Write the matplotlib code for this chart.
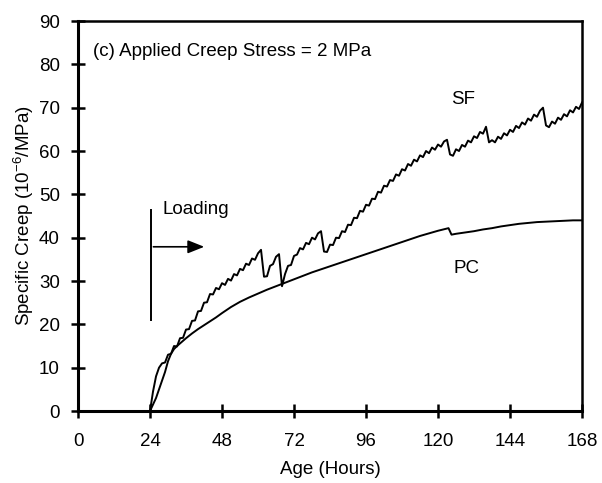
import numpy as np
import matplotlib.pyplot as plt

plt.rcParams['font.family'] = ['Liberation Sans', 'DejaVu Sans']
plt.rcParams['mathtext.fontset'] = 'custom'
plt.rcParams['mathtext.rm'] = 'Liberation Sans'
plt.rcParams['mathtext.default'] = 'rm'

# SF specific creep, hourly readings from 24 h to 168 h
sf_age = np.arange(24, 169)
sf_creep = [
    0, 4.5, 8, 10, 11, 11.2, 13, 13.2, 15, 14.9,            # 24-33
    16.8, 16.9, 18.8, 18.9, 20.8, 20.9, 23, 23.1, 25, 25.1,  # 34-43
    27, 26.9, 28.4, 28.1, 29.5, 29.1, 30.5, 30.1, 31.6, 31.3,  # 44-53
    32.8, 32.5, 34, 33.7, 35.2, 34.9, 36.4, 37.2, 31, 31.1,  # 54-63
    33.5, 33.9, 35.6, 36.2, 28.8, 31.6, 33.5, 33.7, 35.8, 36.1,  # 64-73
    37.6, 37.3, 38.8, 38.5, 40, 39.6, 41, 41.5, 36.8, 36.7,  # 74-83
    38.4, 38.3, 40, 39.9, 41.5, 41.3, 43, 42.9, 44.6, 44.5,  # 84-93
    46.2, 46, 47.6, 47.4, 49, 48.9, 50.6, 50.4, 52, 51.8,  # 94-103
    53.3, 53.1, 54.6, 54.3, 55.8, 55.5, 57, 56.6, 58, 57.6,  # 104-113
    59, 58.6, 60, 59.5, 60.8, 60.3, 61.5, 61, 62.2, 62.6,  # 114-123
    59.2, 58.9, 60.4, 60, 61.4, 61, 62.4, 62, 63.4, 63,  # 124-133
    64.4, 64, 65.6, 62, 62.5, 62, 63.3, 62.8, 64.1, 63.6,  # 134-143
    64.9, 64.4, 65.8, 65.3, 66.6, 66.1, 67.5, 67, 68.4, 67.9,  # 144-153
    69.3, 70, 65.9, 65.5, 66.8, 66.3, 67.7, 67.2, 68.5, 68,  # 154-163
    69.4, 68.9, 70.2, 69.7, 71.2,  # 164-168
]

# PC specific creep
pc_age = [24, 25, 26, 27, 28, 29, 30, 31, 32, 33, 34, 36, 38, 40, 42, 44, 46,
          48, 51, 54, 57, 60, 63, 66, 69, 72, 75, 78, 81, 84, 87, 90, 93, 96,
          99, 102, 105, 108, 111, 114, 117, 120, 123.5, 124.5, 126, 129, 132,
          135, 138, 141, 144, 147, 150, 153, 156, 159, 162, 165, 168]
pc_creep = [0, 1.5, 3, 5, 7, 9, 11.5, 13.2, 14.3, 15, 15.6, 16.8, 17.9, 18.9,
            19.8, 20.7, 21.6, 22.6, 24, 25.2, 26.2, 27.1, 28, 28.8, 29.6,
            30.4, 31.2, 32, 32.7, 33.4, 34.1, 34.8, 35.5, 36.2, 36.9, 37.6,
            38.3, 39, 39.7, 40.4, 41, 41.6, 42.2, 40.7, 40.9, 41.2, 41.5,
            41.9, 42.2, 42.6, 42.9, 43.2, 43.4, 43.6, 43.7, 43.8, 43.9, 44,
            44]

x_ticks = [0, 24, 48, 72, 96, 120, 144, 168]
y_ticks = [0, 10, 20, 30, 40, 50, 60, 70, 80, 90]

fig = plt.figure(figsize=(6.02, 4.83), dpi=100)
ax = fig.add_axes([0.1296, 0.149, 0.8372, 0.8075])

ax.plot(sf_age, sf_creep, color='black', lw=1.4)
ax.plot(pc_age, pc_creep, color='black', lw=1.4)

ax.set_xlim(0, 168)
ax.set_ylim(0, 90)
ax.set_xticks(x_ticks)
ax.set_yticks(y_ticks)
ax.tick_params(direction='inout', length=10, width=1.8, labelsize=13.5,
               colors='black')
ax.tick_params(axis='x', pad=11)
ax.tick_params(axis='y', pad=8)

for side in ['left', 'bottom']:
    ax.spines[side].set_linewidth(2.2)
for side in ['top', 'right']:
    ax.spines[side].set_linewidth(1.8)

ax.set_xlabel('Age (Hours)', fontsize=13.5, labelpad=8)
ax.set_ylabel('Specific Creep (10$^{-6}$/MPa)', fontsize=13.5, labelpad=2)

ax.text(5, 83, '(c) Applied Creep Stress = 2 MPa', fontsize=13.5, va='center')
ax.text(128.4, 71.8, 'SF', fontsize=13.5, ha='center', va='center')
ax.text(129.6, 33, 'PC', fontsize=13.5, ha='center', va='center')

# loading marker
ax.plot([24.2, 24.2], [21, 46.4], color='black', lw=1.4)
ax.annotate('', xy=(43, 37.9), xytext=(24.2, 37.9),
            arrowprops=dict(arrowstyle='-|>,head_length=1.0,head_width=0.4',
                            color='black', lw=1.2))
ax.text(28.3, 46.6, 'Loading', fontsize=13.5, va='center')

fig.savefig('out.png', dpi=100)
